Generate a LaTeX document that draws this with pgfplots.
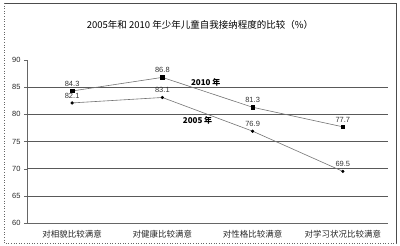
\documentclass[border=0pt]{standalone}
\usepackage{fontspec}
\setmainfont{Liberation Sans}
\newfontfamily\cjk{Noto Sans CJK SC}
\usepackage{pgfplots}
\pgfplotsset{compat=1.18}
\begin{document}
\begin{tikzpicture}[x=1pt,y=1pt]
\path (0,0) rectangle (400,246);
\draw[black!70, line width=0.6pt] (4,243) -- (396,243) -- (396,3);
\draw[black!60, dotted, line width=0.6pt] (4,243) -- (4,3) -- (396,3);
\node[font=\cjk\fontsize{9.5}{10}\selectfont] at (200,221) {2005年和 2010 年少年儿童自我接纳程度的比较（\%）};
\begin{axis}[
  name=ax,
  at={(27pt,23pt)}, anchor=south west,
  scale only axis, width=361pt, height=163pt,
  xmin=-0.5, xmax=3.5, ymin=60, ymax=90,
  axis x line*=bottom, axis y line*=left,
  axis line style={black!60, line width=0.6pt},
  xtick={0,1,2,3},
  xticklabels={对相貌比较满意,对健康比较满意,对性格比较满意,对学习状况比较满意},
  x tick label style={font=\cjk\fontsize{8.5}{9}\selectfont, text=black!85, yshift=-1pt},
  major x tick style={draw=none},
  extra x ticks={0.5,1.5,2.5},
  extra x tick labels={},
  extra x tick style={major tick length=2pt, tick style={black!60}},
  ytick={60,65,...,90},
  y tick label style={font=\fontsize{7.5}{8}\selectfont, text=black!85},
  /pgf/number format/assume math mode=true,
  ytick style={black!60},
  major tick length=3pt,
  tick align=outside,
  clip=false,
]
\foreach \v in {65,70,75,80,85} {
  \edef\tmp{\noexpand\draw[black!65, line width=0.6pt] (axis cs:-0.5,\v) -- (axis cs:3.5,\v);}
  \tmp
}
\addplot[black!55, line width=0.6pt, mark=square*, mark size=1.8pt,
  mark options={black, fill=black},
  nodes near coords, point meta=explicit symbolic,
  every node near coord/.style={font=\fontsize{7.5}{8}\selectfont, text=black!80, yshift=1pt}]
  coordinates {(0,84.3)[84.3] (1,86.8)[86.8] (2,81.3)[81.3] (3,77.7)[77.7]};
\addplot[black!55, line width=0.6pt, mark=*, mark size=1.3pt,
  mark options={black, fill=black},
  nodes near coords, point meta=explicit symbolic,
  every node near coord/.style={font=\fontsize{7.5}{8}\selectfont, text=black!80, yshift=1pt}]
  coordinates {(0,82.1)[82.1] (1,83.1)[83.1] (2,76.9)[76.9] (3,69.5)[69.5]};
\node[font=\cjk\bfseries\fontsize{8}{9}\selectfont] at (axis cs:1.48,85.95) {2010 年};
\node[font=\cjk\bfseries\fontsize{8}{9}\selectfont] at (axis cs:1.39,78.8) {2005 年};
\end{axis}
\end{tikzpicture}
\end{document}
